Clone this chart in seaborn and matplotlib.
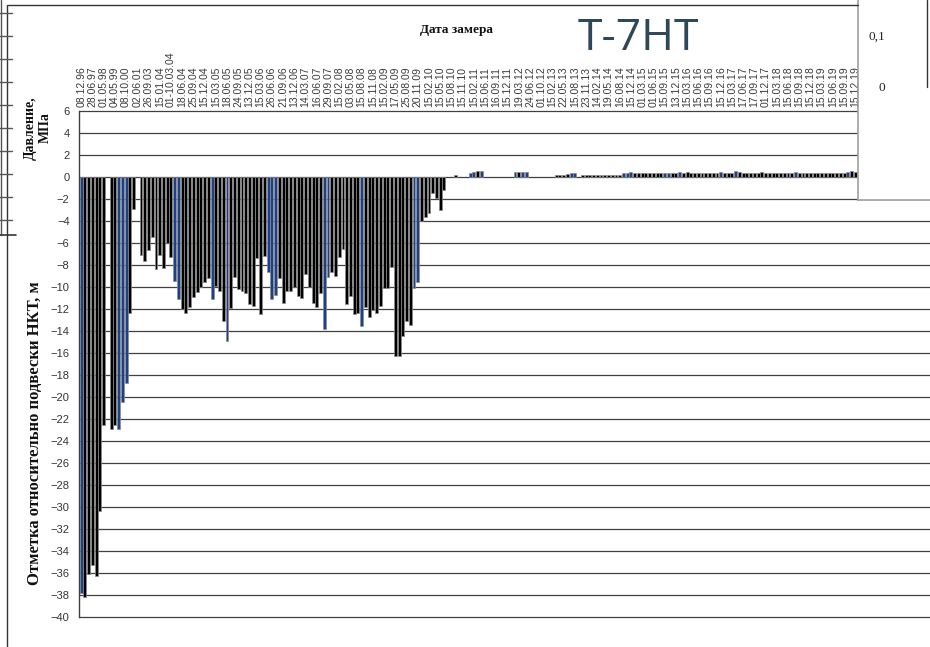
import numpy as np
import pandas as pd
import seaborn as sns
import matplotlib.pyplot as plt

# tick labels (every 3rd category carries a date)
dates = ["08.12.96", "28.06.97", "01.05.98", "04.05.99", "08.10.00", "02.06.01", "26.09.03",
         "15.01.04", "01-10.03.04", "18.06.04", "25.09.04", "15.12.04", "15.03.05", "18.06.05",
         "24.09.05", "13.12.05", "15.03.06", "26.06.06", "21.09.06", "13.12.06", "14.03.07",
         "16.06.07", "29.09.07", "15.02.08", "03.05.08", "15.08.08", "15.11.08", "15.02.09",
         "17.05.09", "25.08.09", "20.11.09", "15.02.10", "15.05.10", "15.08.10", "15.11.10",
         "15.02.11", "15.06.11", "16.09.11", "15.12.11", "19.03.12", "24.06.12", "01.10.12",
         "15.02.13", "22.05.13", "15.08.13", "23.11.13", "14.02.14", "19.05.14", "16.08.14",
         "15.12.14", "01.03.15", "01.06.15", "15.09.15", "13.12.15", "15.03.16", "15.06.16",
         "15.09.16", "15.12.16", "15.03.17", "17.06.17", "17.09.17", "01.12.17", "15.03.18",
         "15.06.18", "15.09.18", "15.12.18", "15.03.19", "15.06.19", "15.09.19", "15.12.19"]

# bar values, one per category (None = no measurement)
levels = [
    -37.8, -38.2, -36.1, -35.3, -36.3, -30.4, -22.6, None, -22.9, -22.6,
    -22.9, -20.5, -18.7, -12.4, -2.9, None, -7.1, -7.7, -6.7, -5.5,
    -8.4, -7.1, -8.3, -6.0, -7.3, -9.5, -11.1, -12.0, -12.4, -11.8,
    -10.9, -10.5, -10.0, -9.6, -9.2, -11.1, -9.9, -10.4, -13.1, -14.9,
    -11.9, -9.1, -10.2, -10.4, -10.6, -11.6, -11.7, -7.4, -12.5, -7.2,
    -8.7, -11.1, -10.7, -9.2, -11.5, -10.4, -10.4, -10.0, -10.8, -11.0,
    -8.8, -10.0, -11.5, -11.8, -10.6, -13.8, -9.1, -8.7, -9.0, -7.3,
    -6.6, -11.6, -10.8, -12.5, -12.4, -13.6, -11.8, -12.7, -12.1, -12.4,
    -11.7, -10.1, -10.1, -8.2, -16.3, -16.3, -14.5, -13.1, -13.5, -10.1,
    -9.6, -4.0, -3.7, -3.3, -1.5, -1.9, -3.0, -1.2, None, None,
    0.2, None, None, None, 0.3, 0.45, 0.5, 0.5, None, None,
    None, None, None, None, None, None, 0.45, 0.45, 0.4, 0.45,
    None, None, None, None, None, None, None, 0.2, 0.2, 0.2,
    0.25, 0.3, 0.3, None, 0.15, 0.15, 0.15, 0.15, 0.15, 0.15,
    0.15, 0.15, 0.2, 0.2, 0.2, 0.3, 0.35, 0.45, 0.3, 0.3,
    0.3, 0.3, 0.3, 0.3, 0.3, 0.3, 0.35, 0.35, 0.3, 0.35,
    0.4, 0.35, 0.4, 0.35, 0.35, 0.3, 0.3, 0.35, 0.3, 0.3,
    0.35, 0.4, 0.35, 0.3, 0.35, 0.5, 0.4, 0.35, 0.3, 0.3,
    0.35, 0.3, 0.4, 0.35, 0.3, 0.3, 0.35, 0.35, 0.3, 0.3,
    0.35, 0.4, 0.35, 0.3, 0.3, 0.35, 0.3, 0.35, 0.35, 0.3,
    0.3, 0.35, 0.3, 0.35, 0.3, 0.4, 0.5, 0.45,
]

# categories drawn in blue
blue_bars = [0, 10, 11, 12, 25, 26, 35, 39, 50, 51, 52, 65, 66, 75, 89, 90,
             104, 105, 107, 116, 118, 119, 131, 132, 145, 146, 147, 156, 157,
             160, 171, 175, 191, 205]

n_cat = len(levels)
df = pd.DataFrame({"cat": range(n_cat), "val": levels})
df["col"] = np.where(df["cat"].isin(blue_bars), "blue", "black")
df = df.dropna()

W, H = 930, 647


def fx(px):
    return px / W


def fy(py):
    return 1 - py / H


sns.set_style("white")
plt.rcParams["font.family"] = ["Liberation Sans", "DejaVu Sans"]

fig = plt.figure(figsize=(9.3, 6.47), dpi=100)

left, top, bottom = 79.3, 110.7, 617.0
pitch = 3.74
ax = fig.add_axes([fx(left), fy(bottom), 1 - fx(left), (bottom - top) / H])

for yv in range(-40, 8, 2):
    ax.axhline(yv, color="#404040", lw=0.9, zorder=0, clip_on=False)

sns.barplot(data=df, x="cat", y="val", hue="col", order=list(range(n_cat)),
            palette={"black": "#000000", "blue": "#0a3a9e"}, dodge=False,
            width=0.78, edgecolor="#8c8c8c", linewidth=0.5, errorbar=None,
            legend=False, ax=ax)

ax.set_xlim(-0.5, -0.5 + (W - left) / pitch)
ax.set_ylim(-40, 6)
ax.set_yticks(range(-40, 7, 2))
ax.xaxis.tick_top()
ax.set_xticks(range(0, 3 * len(dates), 3))
ax.set_xticklabels(dates, rotation=90, fontsize=7.5, color="#3a3a3a")
ax.tick_params(axis="x", length=0, pad=3)
ax.tick_params(axis="y", length=5, width=0.8, color="#404040", direction="out",
               labelsize=8, labelcolor="#333333", pad=2)
ax.set_xlabel("")
ax.set_ylabel("")
for s in ["top", "right", "bottom"]:
    ax.spines[s].set_visible(False)
ax.spines["left"].set_color("#404040")
ax.spines["left"].set_linewidth(1)

# overlapping chart in the top right corner
ins = fig.add_axes([fx(858), fy(200), fx(930 - 858) + 0.01, 200 / H])
ins.set_facecolor("white")
ins.set_xticks([])
ins.set_yticks([])
for s in ["top", "right"]:
    ins.spines[s].set_visible(False)
for s in ["left", "bottom"]:
    ins.spines[s].set_color("#a0a0a0")
    ins.spines[s].set_linewidth(1.2)
ins.set_zorder(3)

# decoration layer in pixel coordinates
deco = fig.add_axes([0, 0, 1, 1])
deco.set_xlim(0, W)
deco.set_ylim(H, 0)
deco.axis("off")
deco.patch.set_alpha(0)
deco.set_zorder(4)

deco.plot([8, 858], [5, 5], color="#333333", lw=1)
deco.plot([7, 7], [5, H], color="#333333", lw=1)
deco.plot([1, 1], [0, 235], color="#555555", lw=1)
for yt in range(13, 230, 23):
    deco.plot([0, 12], [yt, yt], color="#555555", lw=1)
deco.plot([0, 16], [235, 235], color="#333333", lw=1.2)

deco.plot([927, 927], [0, 87], color="#333333", lw=1)
deco.text(877, 37, "0,1", ha="center", va="center", fontsize=9.5,
          family="Liberation Serif", color="#222222")
deco.text(882, 88, "0", ha="center", va="center", fontsize=9.5,
          family="Liberation Serif", color="#222222")

deco.text(456, 30, "Дата замера", ha="center", va="center", fontsize=9.5,
          family="Liberation Serif", weight="bold", color="#111111")
deco.text(638, 39, "T-7HT", ha="center", va="center", fontsize=32,
          family="Open Sans", color="#2f4858")
deco.text(38, 128, "Давление,\nМПа", ha="center", va="center", rotation=90,
          fontsize=10, family="Liberation Serif", weight="bold",
          multialignment="center", color="#111111")
deco.text(35, 433, "Отметка относительно подвески НКТ, м", ha="center",
          va="center", rotation=90, fontsize=12, family="Liberation Serif",
          weight="bold", color="#111111")

fig.savefig("out.png", dpi=100)
